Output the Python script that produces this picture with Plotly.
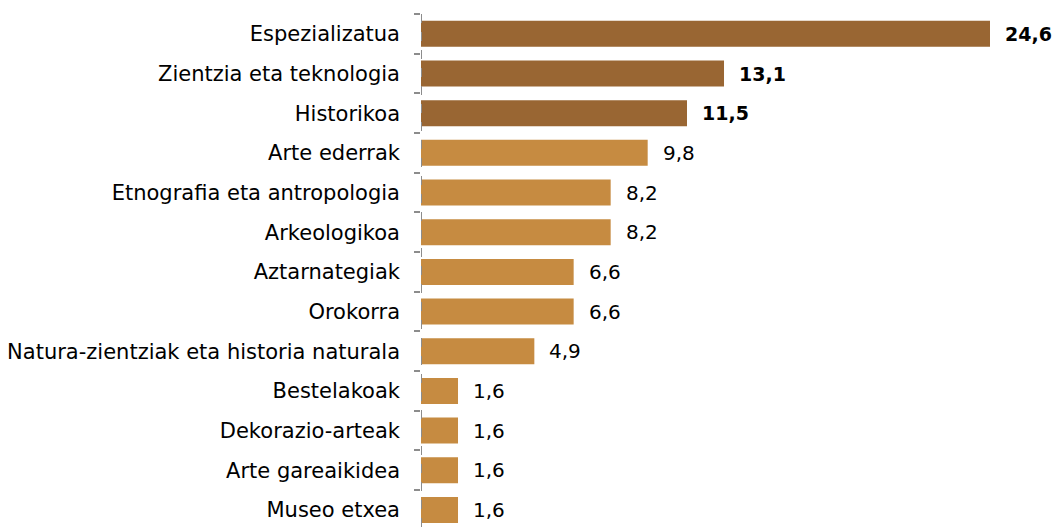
import plotly.graph_objects as go

categories = ["Espezializatua", "Zientzia eta teknologia", "Historikoa", "Arte ederrak",
              "Etnografia eta antropologia", "Arkeologikoa", "Aztarnategiak", "Orokorra",
              "Natura-zientziak eta historia naturala", "Bestelakoak", "Dekorazio-arteak",
              "Arte gareaikidea", "Museo etxea"]
values = [24.6, 13.1, 11.5, 9.8, 8.2, 8.2, 6.6, 6.6, 4.9, 1.6, 1.6, 1.6, 1.6]
highlight = [True, True, True] + [False] * 10

dark = "#996633"
light = "#C68B41"
colors = [dark if h else light for h in highlight]
FONT = "DejaVu Sans, Arial, sans-serif"

fig = go.Figure(go.Bar(
    x=values, y=categories, orientation="h",
    marker=dict(color=colors, line=dict(width=0)),
    width=0.655, hoverinfo="skip"))

for c, v, h in zip(categories, values, highlight):
    lab = f"{v:.1f}".replace(".", ",")
    fig.add_annotation(x=v, y=c, text=f"<b>{lab}</b>" if h else lab,
                       xanchor="left", showarrow=False, xshift=13,
                       font=dict(size=19 if h else 20, color="#000000", family=FONT))

fig.add_shape(type="line", xref="x", yref="paper", x0=0, x1=0, y0=0, y1=1,
              line=dict(color="#8c8c8c", width=2, dash="dash"))

fig.update_layout(
    width=1055, height=527,
    margin=dict(l=421, r=0, t=14, b=0),
    plot_bgcolor="white", paper_bgcolor="white",
    showlegend=False,
    font=dict(family=FONT, size=20, color="#000000"),
    xaxis=dict(range=[0, 27.41], visible=False, showgrid=False, zeroline=False,
               automargin=False),
    yaxis=dict(categoryorder="array", categoryarray=categories, automargin=False,
               range=[12.43, -0.5], showgrid=False, zeroline=False, showline=False,
               ticks="outside", tickson="boundaries", ticklen=6, tickwidth=2,
               tickcolor="#8c8c8c", ticklabelstandoff=20,
               tickfont=dict(size=21, color="#000000", family=FONT)),
)

fig.write_html("out.html", config={"displayModeBar": False},
               post_script="document.body.style.margin='0';document.body.style.padding='0';")
